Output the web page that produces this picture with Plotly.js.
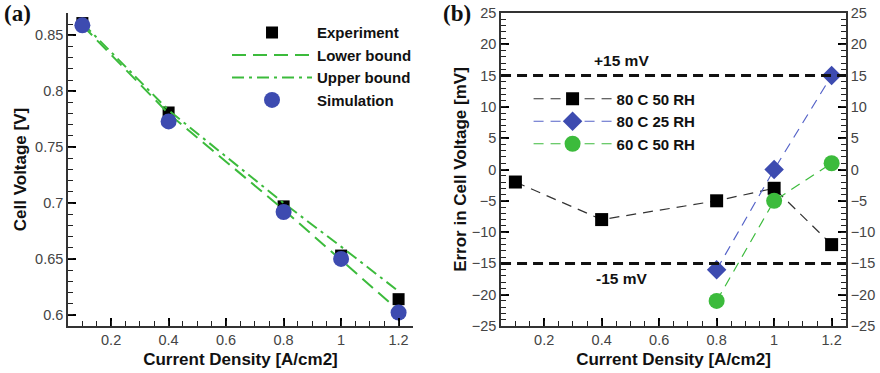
<!DOCTYPE html>
<html>
<head>
<meta charset="utf-8">
<script src="https://cdn.plot.ly/plotly-3.0.1.min.js"></script>
<style>html,body{margin:0;padding:0;background:#fff;}#chart{width:880px;height:373px;}</style>
</head>
<body>
<div id="chart"></div>
<script>
// ---- Panel (a) data ----
const currentA = [0.1, 0.4, 0.8, 1.0, 1.2];
const experiment = [0.861, 0.781, 0.697, 0.653, 0.614];
const simulation = [0.859, 0.773, 0.692, 0.650, 0.602];
const lowerBound = [0.859, 0.780, 0.694, 0.649, 0.604];
const upperBound = [0.861, 0.783, 0.700, 0.661, 0.621];

// ---- Panel (b) data ----
const currentB1 = [0.1, 0.4, 0.8, 1.0, 1.2];
const err80C50RH = [-2, -8, -5, -3, -12];
const currentB2 = [0.8, 1.0, 1.2];
const err80C25RH = [-16, 0, 15];
const err60C50RH = [-21, -5, 1];
const limits = [15, -15];
const limitLabels = ['+15 mV', '-15 mV'];

const GREEN = '#3cbb3c';
const BLUE = '#3d4bb0';
const FONT = '"Liberation Sans", Arial, sans-serif';
const tickFont = {family: FONT, size: 14.5, color: '#444'};
const titleFont = {family: FONT, size: 17, color: '#111', weight: 'bold'};

function ghost(x, y, xa, ya) {
  return {x: x, y: y, mode: 'markers', xaxis: xa, yaxis: ya, showlegend: false,
          hoverinfo: 'skip', marker: {opacity: 0}};
}

const traces = [
  {x: currentA, y: experiment, name: 'Experiment', mode: 'markers', xaxis: 'x', yaxis: 'y',
   marker: {symbol: 'square', size: 12, color: '#000'}, legend: 'legend'},
  {x: currentA, y: lowerBound, name: 'Lower bound', mode: 'lines', xaxis: 'x', yaxis: 'y',
   line: {color: GREEN, width: 2, dash: '14px,7px'}, legend: 'legend'},
  {x: currentA, y: upperBound, name: 'Upper bound', mode: 'lines', xaxis: 'x', yaxis: 'y',
   line: {color: GREEN, width: 2, dash: '12px,5px,3px,5px'}, legend: 'legend'},
  {x: currentA, y: simulation, name: 'Simulation', mode: 'markers', xaxis: 'x', yaxis: 'y',
   marker: {symbol: 'circle', size: 16, color: BLUE}, legend: 'legend'},

  {x: currentB1, y: err80C50RH, name: '80 C 50 RH', mode: 'lines+markers', xaxis: 'x2', yaxis: 'y2',
   line: {color: '#333', width: 1.2, dash: '10px,7px'},
   marker: {symbol: 'square', size: 13, color: '#000'}, legend: 'legend2'},
  {x: currentB2, y: err80C25RH, name: '80 C 25 RH', mode: 'lines+markers', xaxis: 'x2', yaxis: 'y2',
   line: {color: '#5563c8', width: 1.2, dash: '10px,7px'},
   marker: {symbol: 'diamond', size: 15, color: BLUE}, legend: 'legend2'},
  {x: currentB2, y: err60C50RH, name: '60 C 50 RH', mode: 'lines+markers', xaxis: 'x2', yaxis: 'y2',
   line: {color: GREEN, width: 1.2, dash: '10px,7px'},
   marker: {symbol: 'circle', size: 16, color: GREEN}, legend: 'legend2'},
  // invisible traces that activate the right-hand axis and the minor-tick axes
  ghost(currentB2, err80C25RH, 'x2', 'y3'),
  ghost(currentA, experiment, 'x3', 'y4'),
  ghost(currentB1, err80C50RH, 'x4', 'y5'),
  ghost(currentB1, err80C50RH, 'x4', 'y6')
];

const commonAxis = {
  showgrid: false, zeroline: false, showline: true, linecolor: '#333', linewidth: 1.5,
  ticks: 'inside', ticklen: 8, tickwidth: 1.8, tickcolor: '#000', tickfont: tickFont
};
const minorAxis = {
  showgrid: false, zeroline: false, showline: false, showticklabels: false,
  ticks: 'inside', ticklen: 5, tickwidth: 1.3, tickcolor: '#222', tickmode: 'linear', tick0: 0
};

const shapes = limits.map(v => ({
  type: 'line', xref: 'x2 domain', x0: 0, x1: 1, yref: 'y2', y0: v, y1: v,
  line: {color: '#111', width: 3, dash: '10px,6px'}
}));

const annotations = [
  ...limits.map((v, i) => ({
    text: limitLabels[i], xref: 'x2', yref: 'y2', x: 0.47, y: v, showarrow: false,
    yshift: v > 0 ? 15 : -15, font: {family: FONT, size: 15.5, color: '#111', weight: 'bold'}
  })),
  {text: '(a)', xref: 'paper', yref: 'paper', x: -0.065, y: 1.0, xanchor: 'center', yanchor: 'middle',
   showarrow: false, font: {family: '"Liberation Serif", "Times New Roman", serif', size: 23, color: '#111', weight: 'bold'}},
  {text: '(b)', xref: 'paper', yref: 'paper', x: 0.5, y: 1.0, xanchor: 'center', yanchor: 'middle',
   showarrow: false, font: {family: '"Liberation Serif", "Times New Roman", serif', size: 23, color: '#111', weight: 'bold'}}
];

const legendFont = {family: FONT, size: 15, color: '#111', weight: 'bold'};
const xRange = [0.05, 1.25];
const yRangeA = [0.59, 0.87];
const yRangeB = [-25, 25];

const layout = {
  width: 880, height: 373,
  margin: {l: 68, r: 34, t: 13, b: 47},
  paper_bgcolor: '#fff', plot_bgcolor: 'rgba(0,0,0,0)',
  font: {family: FONT},
  showlegend: true,
  xaxis: Object.assign({}, commonAxis, {
    domain: [0, 0.4434], range: xRange, dtick: 0.2, anchor: 'y',
    title: {text: 'Current Density [A/cm2]', font: titleFont, standoff: 6}
  }),
  yaxis: Object.assign({}, commonAxis, {
    domain: [0, 1], range: yRangeA, dtick: 0.05, anchor: 'x',
    title: {text: 'Cell Voltage [V]', font: titleFont, standoff: 4}
  }),
  xaxis2: Object.assign({}, commonAxis, {
    domain: [0.5566, 1], range: xRange, dtick: 0.2, anchor: 'y2', mirror: true,
    title: {text: 'Current Density [A/cm2]', font: titleFont, standoff: 6}
  }),
  yaxis2: Object.assign({}, commonAxis, {
    domain: [0, 1], range: yRangeB, dtick: 5, anchor: 'x2',
    title: {text: 'Error in Cell Voltage [mV]', font: titleFont, standoff: 1}
  }),
  yaxis3: Object.assign({}, commonAxis, {
    range: yRangeB, dtick: 5, anchor: 'x2', overlaying: 'y2', side: 'right'
  }),
  // minor tick axes
  xaxis3: Object.assign({}, minorAxis, {range: xRange, dtick: 0.05, overlaying: 'x', anchor: 'y', side: 'bottom'}),
  yaxis4: Object.assign({}, minorAxis, {range: yRangeA, dtick: 0.01, overlaying: 'y', anchor: 'x', side: 'left'}),
  xaxis4: Object.assign({}, minorAxis, {range: xRange, dtick: 0.05, overlaying: 'x2', anchor: 'y2', side: 'bottom'}),
  yaxis5: Object.assign({}, minorAxis, {range: yRangeB, dtick: 1, overlaying: 'y2', anchor: 'x2', side: 'left'}),
  yaxis6: Object.assign({}, minorAxis, {range: yRangeB, dtick: 1, overlaying: 'y2', anchor: 'x2', side: 'right'}),
  legend: {x: 0.2044, y: 0.99, xanchor: 'left', yanchor: 'top', bgcolor: 'rgba(0,0,0,0)',
           font: legendFont, itemwidth: 80, tracegroupgap: 0},
  legend2: {x: 0.592, y: 0.778, xanchor: 'left', yanchor: 'top', bgcolor: 'rgba(0,0,0,0)',
            font: legendFont, itemwidth: 78, tracegroupgap: 0},
  shapes: shapes,
  annotations: annotations
};

Plotly.newPlot('chart', traces, layout, {displayModeBar: false});
</script>
</body>
</html>
